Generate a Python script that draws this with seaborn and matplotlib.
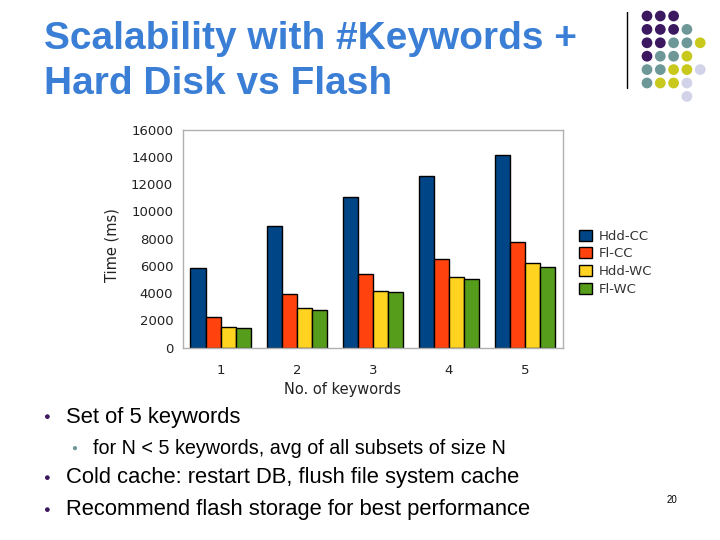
import matplotlib
matplotlib.use('Agg')
import matplotlib.pyplot as plt
import seaborn as sns
import pandas as pd

# Data
keywords = ['1', '2', '3', '4', '5']
series_names = ['Hdd-CC', 'Fl-CC', 'Hdd-WC', 'Fl-WC']
hdd_cc = [5850, 8920, 11070, 12600, 14150]
fl_cc = [2270, 3960, 5400, 6520, 7770]
hdd_wc = [1540, 2930, 4180, 5200, 6200]
fl_wc = [1470, 2790, 4080, 5060, 5940]
colors = ['#004586', '#ff420e', '#ffd320', '#579d1c']

y_ticks = [0, 2000, 4000, 6000, 8000, 10000, 12000, 14000, 16000]

title_text = 'Scalability with #Keywords +\nHard Disk vs Flash'
bullets = ['Set of 5 keywords',
           'Cold cache: restart DB, flush file system cache',
           'Recommend flash storage for best performance']
sub_bullet = 'for N < 5 keywords, avg of all subsets of size N'
page_no = '20'

# decoration dots (slide template), one string per row
dot_rows = ['PPP', 'PPPT', 'PPTTY', 'PTTY', 'TTYYL', 'TYYL', '...L']
dot_colors = {'P': '#3b1860', 'T': '#6e9898', 'Y': '#c9c81c', 'L': '#d2d2e8'}

df = pd.DataFrame({
    'keywords': keywords * 4,
    'series': [s for s in series_names for _ in keywords],
    'time': hdd_cc + fl_cc + hdd_wc + fl_wc,
})

sns.set_style('white')
plt.rcParams['font.family'] = ['Liberation Sans', 'DejaVu Sans']
chart_font = 'DejaVu Sans'

fig = plt.figure(figsize=(7.2, 5.4), dpi=100)
ax = fig.add_axes([0.254, 0.356, 0.528, 0.404])

sns.barplot(data=df, x='keywords', y='time', hue='series', palette=colors,
            saturation=1, width=0.8, edgecolor='black', linewidth=1.0, ax=ax,
            legend=True)

ax.set_ylim(0, 16000)
ax.set_yticks(y_ticks)
ax.set_yticklabels([str(t) for t in y_ticks], fontsize=9.5, color='#222222',
                   family=chart_font)
ax.set_xlim(-0.5, 4.5)
ax.set_xticks(range(len(keywords)))
ax.set_xticklabels(keywords, fontsize=9.5, color='#222222', family=chart_font)
ax.tick_params(axis='x', length=0, pad=12)
ax.tick_params(axis='y', length=5, color='#aaaaaa', width=1, direction='out', pad=2)
# group separator ticks
ax.set_xticks([i - 0.5 for i in range(len(keywords) + 1)], minor=True)
ax.tick_params(axis='x', which='minor', length=7, color='#aaaaaa', width=1, direction='out')
ax.set_xlabel('No. of keywords', fontsize=10.5, color='#222222', family=chart_font)
ax.set_ylabel('Time (ms)', fontsize=10.5, color='#222222', family=chart_font)
ax.xaxis.set_label_coords(0.42, -0.155)
ax.yaxis.set_label_coords(-0.168, 0.47)
for sp in ax.spines.values():
    sp.set_color('#b0b0b0')
    sp.set_linewidth(1)

leg = ax.legend(loc='center left', bbox_to_anchor=(1.01, 0.39), frameon=False,
                prop={'family': chart_font, 'size': 9.5}, handlelength=1.0,
                handleheight=0.9, handletextpad=0.5, labelspacing=0.35)
for t in leg.get_texts():
    t.set_color('#333333')

# slide title
fig.text(44 / 720, 1 - 21 / 540, title_text, fontsize=28, fontweight='bold',
         color='#3a7fd5', va='top', ha='left', linespacing=1.33)

# bullets
bullet_y = [417, 478, 510]
for yb, txt in zip(bullet_y, bullets):
    fig.text(46 / 720, 1 - yb / 540, '\u25cf', fontsize=8, color='#3b1860',
             va='center', ha='center')
    fig.text(66 / 720, 1 - yb / 540, txt, fontsize=15.8, color='black', va='center')
fig.text(74 / 720, 1 - 448 / 540, '\u25cf', fontsize=7, color='#6e9898',
         va='center', ha='center')
fig.text(93 / 720, 1 - 448 / 540, sub_bullet, fontsize=14.2, color='black', va='center')

fig.text(672 / 720, 1 - 500 / 540, page_no, fontsize=7, color='black',
         ha='center', va='center')

# template decoration: vertical line and dot grid
deco = fig.add_axes([0, 0, 1, 1], zorder=-1)
deco.set_xlim(0, 720)
deco.set_ylim(540, 0)
deco.axis('off')
deco.plot([627, 627], [12, 88], color='black', lw=1)
for r, row in enumerate(dot_rows):
    for c, ch in enumerate(row):
        if ch in dot_colors:
            deco.scatter(647 + c * 13.3, 16 + r * 13.4, s=60, color=dot_colors[ch],
                         edgecolor='none')

fig.savefig('out.png', dpi=100)
